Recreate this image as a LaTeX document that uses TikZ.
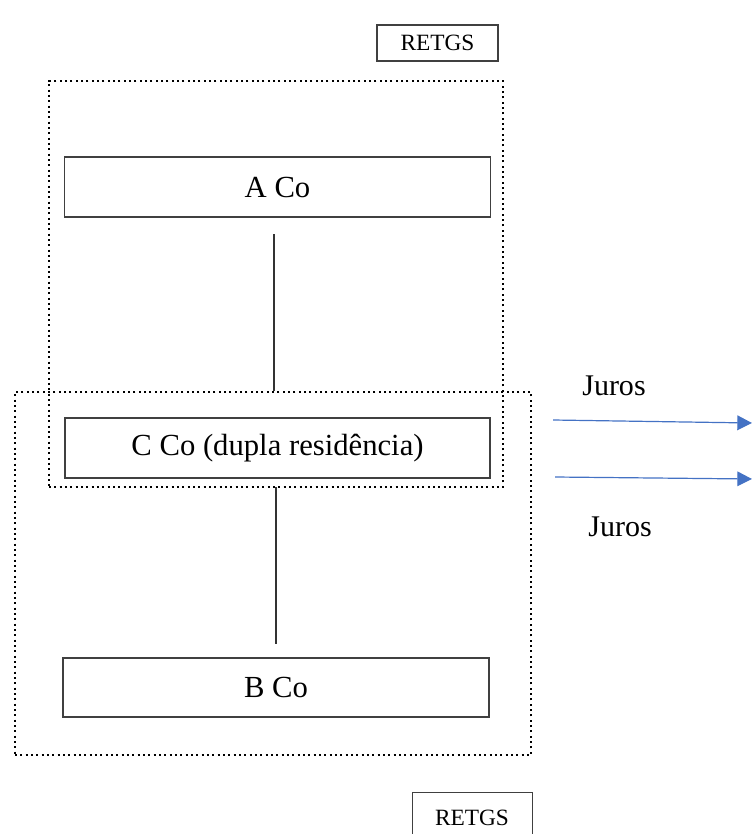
\documentclass[tikz,border=0pt]{standalone}
\usepackage{fontspec}
\setmainfont{Liberation Serif}
\usetikzlibrary{arrows.meta,calc}

\tikzset{
  cobox/.style={draw=black!75, line width=0.8pt, inner sep=0pt,
    minimum width=320pt, minimum height=45pt, font=\fontsize{23}{27}\selectfont},
  tagbox/.style={draw=black!75, line width=0.8pt, inner sep=0pt,
    font=\fontsize{17.5}{21}\selectfont},
  grp/.style={draw, line width=2pt, dash pattern=on 1.6pt off 2.4pt, inner sep=0pt},
  link/.style={draw=black!80, line width=0.8pt},
  flow/.style={draw={rgb,255:red,68;green,114;blue,196}, line width=0.9pt,
    -{Triangle[length=11pt,width=11pt]}},
  lbl/.style={font=\fontsize{22.5}{26}\selectfont}
}

\begin{document}
\begin{tikzpicture}[x=0.75pt,y=-0.75pt]
      \useasboundingbox (0,0) rectangle (752,834);
      % dotted groups
      \node[grp, minimum width=340.5pt, minimum height=304.5pt] (agrp) at (276,284) {};
      \node[grp, minimum width=387pt, minimum height=272.25pt] (bgrp) at (273,573.5) {};
      % companies
      \node[cobox] (a) at (277.5,187) {A Co};
      \node[cobox, minimum width=318.75pt] (c) at (277.5,448) {C Co (dupla residência)};
      \node[cobox, minimum width=319.5pt, minimum height=44.25pt] (b) at (276,687.5) {B Co};
      \node[tagbox, minimum width=90.75pt, minimum height=27pt] (rt) at (437.5,43) {RETGS};
      \node[tagbox, minimum width=90pt, minimum height=37.5pt, anchor=north west] (rb) at (412,792) {};
      \node[font=\fontsize{17.5}{21}\selectfont] (rbt) at (472,818) {RETGS};
      % links
      \coordinate (ac) at (274,234);
      \coordinate (cb) at (276,487);
      \draw[link] (ac) -- (ac |- bgrp.north);
      \draw[link] (cb) -- ($(cb |- b.north)+(0,-13)$);
      % interest flows
      \coordinate (f1) at (553,420);
      \coordinate (t1) at (752,423);
      \coordinate (f2) at (555,477);
      \coordinate (t2) at (752,479);
      \draw[flow] (f1) -- (t1);
      \draw[flow] (f2) -- (t2);
      \node[lbl] (j1) at (614,386) {Juros};
      \node[lbl] (j2) at (620,527) {Juros};
    \end{tikzpicture}
\end{document}
